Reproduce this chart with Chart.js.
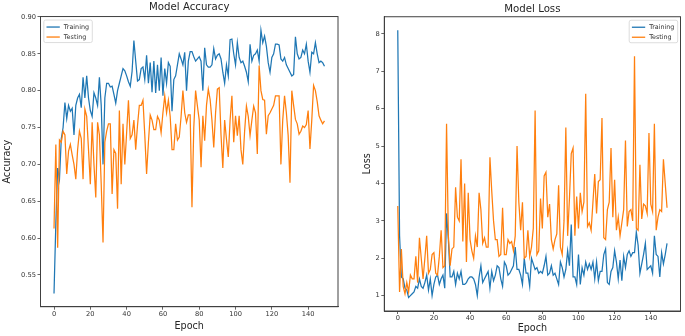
<!DOCTYPE html>
<html><head><meta charset="utf-8">
<script src="https://cdn.jsdelivr.net/npm/chart.js@4.4.0/dist/chart.umd.min.js"></script>
<style>
html,body{margin:0;padding:0;background:#fff;}
#wrap{position:relative;width:685px;height:336px;background:#fff;}
.box{position:absolute;top:0;height:336px;}
canvas{display:block;}
</style></head><body>
<div id="wrap">
<div class="box" style="left:0;width:342px"><canvas id="c1" width="342" height="336"></canvas></div>
<div class="box" style="left:342px;width:343px"><canvas id="c2" width="343" height="336"></canvas></div>
</div>
<script>
const epochs = Array.from({length:150}, (_, i) => i);
const seriesNames = ['Training', 'Testing'];

const accTrain = [
0.525,0.62,0.695,0.68,0.735,0.75,0.784,0.762,0.78,0.772,
0.776,0.74,0.78,0.79,0.795,0.777,0.818,0.79,0.82,0.79,
0.773,0.765,0.797,0.79,0.78,0.818,0.78,0.70,0.79,0.81,
0.81,0.805,0.806,0.795,0.783,0.80,0.81,0.82,0.83,0.827,
0.82,0.812,0.806,0.826,0.868,0.84,0.813,0.815,0.83,0.832,
0.815,0.848,0.81,0.838,0.798,0.84,0.797,0.835,0.80,0.845,
0.793,0.83,0.81,0.838,0.833,0.772,0.815,0.82,0.835,0.85,
0.843,0.835,0.852,0.80,0.84,0.853,0.853,0.846,0.84,0.843,
0.846,0.84,0.80,0.858,0.835,0.832,0.832,0.835,0.857,0.843,
0.848,0.85,0.843,0.825,0.81,0.835,0.82,0.869,0.87,0.85,
0.835,0.865,0.845,0.838,0.84,0.833,0.825,0.812,0.863,0.84,
0.848,0.85,0.855,0.84,0.882,0.865,0.874,0.86,0.838,0.825,
0.845,0.85,0.863,0.863,0.862,0.843,0.84,0.845,0.835,0.83,
0.825,0.82,0.822,0.873,0.85,0.843,0.845,0.855,0.85,0.863,
0.84,0.825,0.852,0.85,0.865,0.85,0.838,0.84,0.838,0.833];

const accTest = [
0.613,0.727,0.587,0.733,0.73,0.745,0.74,0.687,0.718,0.727,
0.713,0.70,0.68,0.72,0.745,0.735,0.68,0.775,0.765,0.72,
0.673,0.757,0.70,0.655,0.757,0.74,0.673,0.594,0.73,0.745,
0.755,0.755,0.66,0.72,0.715,0.64,0.773,0.673,0.755,0.70,
0.743,0.787,0.735,0.74,0.76,0.72,0.753,0.78,0.78,0.787,
0.74,0.687,0.73,0.767,0.76,0.747,0.747,0.765,0.76,0.743,
0.77,0.793,0.77,0.787,0.765,0.72,0.72,0.755,0.733,0.737,
0.765,0.80,0.77,0.757,0.767,0.767,0.642,0.75,0.80,0.779,
0.76,0.696,0.766,0.732,0.78,0.802,0.788,0.76,0.723,0.77,
0.802,0.804,0.74,0.695,0.76,0.734,0.71,0.76,0.793,0.73,
0.766,0.739,0.766,0.72,0.70,0.745,0.779,0.765,0.739,0.76,
0.779,0.77,0.714,0.834,0.80,0.788,0.787,0.741,0.766,0.77,
0.775,0.78,0.793,0.793,0.793,0.70,0.76,0.793,0.77,0.739,
0.675,0.80,0.78,0.761,0.755,0.741,0.745,0.752,0.75,0.754,
0.773,0.721,0.76,0.807,0.80,0.785,0.766,0.76,0.755,0.759];

const lossTrain = [
8.1,2.6,1.5,1.45,1.2,1.15,0.95,1.0,1.05,1.1,
1.25,1.2,1.45,1.25,1.2,1.35,1.55,1.15,1.45,1.0,
1.3,1.5,1.55,1.3,1.45,1.55,1.2,3.2,2.5,1.5,
1.5,1.65,1.3,1.6,1.45,1.65,1.3,1.3,1.35,1.45,
1.5,1.5,1.45,1.3,1.0,1.5,1.8,1.35,1.45,1.55,
1.65,1.2,1.65,1.4,1.55,1.8,1.75,1.45,1.25,1.9,
1.8,1.55,1.6,1.7,1.8,2.3,1.7,1.7,1.55,1.3,
2.0,1.6,1.6,1.25,2.0,1.85,1.7,1.75,1.6,1.65,
1.6,1.8,2.05,1.55,1.6,1.8,1.55,1.6,1.45,1.3,
1.9,1.75,1.5,1.7,2.2,1.8,2.9,1.5,1.5,1.3,
2.1,1.3,1.75,1.55,1.9,1.7,1.85,1.7,1.9,1.45,
1.9,1.4,1.65,1.65,2.1,2.25,1.35,1.3,1.65,1.75,
2.2,1.9,1.45,1.95,1.4,2.05,1.75,2.1,2.2,2.05,
2.15,2.15,2.7,2.35,1.6,1.85,2.1,2.4,1.7,1.75,
1.8,1.6,2.6,2.1,2.05,1.5,2.15,1.85,2.1,2.4];

const lossTest = [
3.4,1.1,2.25,1.25,1.05,1.35,1.1,1.55,1.45,1.45,
2.05,1.35,2.55,2.0,1.45,2.0,2.6,1.6,1.7,2.1,
2.15,1.6,1.55,2.05,2.75,1.75,1.8,5.6,2.6,1.8,
2.25,2.3,3.9,3.1,3.0,4.65,2.45,4.0,1.9,3.75,
2.5,2.2,2.0,2.6,2.3,3.75,3.3,2.4,2.55,2.3,
2.3,4.7,3.8,3.0,2.5,2.5,2.05,2.1,3.35,2.1,
2.1,2.5,2.4,2.45,2.2,2.6,5.0,3.5,2.75,3.5,
2.0,2.05,2.75,2.05,2.3,2.8,5.95,2.1,2.2,3.6,
2.8,4.2,4.3,3.1,3.45,2.5,2.25,2.5,2.65,3.95,
2.3,2.1,3.0,5.5,2.6,3.6,4.8,4.95,2.6,3.65,
2.8,3.75,3.25,3.5,6.4,2.85,2.95,2.75,3.5,4.25,
3.2,4.05,4.1,5.75,2.55,2.5,3.3,3.5,4.95,3.1,
4.1,2.75,3.1,2.6,2.95,3.3,5.15,2.85,3.25,3.3,
3.0,7.4,2.8,2.75,4.5,3.05,3.45,3.4,3.2,5.35,
3.45,3.25,5.6,2.75,3.1,3.3,3.25,4.65,4.0,3.35];

const xTicks = [0, 20, 40, 60, 80, 100, 120, 140];
const accTicks = [0.55, 0.60, 0.65, 0.70, 0.75, 0.80, 0.85, 0.90];
const lossTicks = [1, 2, 3, 4, 5, 6, 7, 8];

const BLUE = '#1f77b4', ORANGE = '#ff7f0e', AX = '#404040', TXT = '#262626';
const FONT = '"DejaVu Sans", sans-serif';

const frame = {
  id: 'frame',
  afterDatasetsDraw(chart) {
    const {ctx, chartArea: a} = chart;
    ctx.save();
    ctx.strokeStyle = AX; ctx.lineWidth = 1;
    ctx.strokeRect(a.left, a.top, a.right - a.left, a.bottom - a.top);
    ctx.restore();
  }
};

const legendBox = {
  id: 'legendBox',
  afterDraw(chart, args, opts) {
    const {ctx, chartArea: a} = chart;
    const w = 48.5, h = 22.5;
    const x = opts.side === 'left' ? a.left + 3.3 : a.right - 2.8 - w;
    const y = a.top + 3.5;
    ctx.save();
    ctx.fillStyle = 'rgba(255,255,255,0.85)';
    ctx.strokeStyle = '#d4d4d4'; ctx.lineWidth = 0.8;
    ctx.beginPath(); ctx.roundRect(x, y, w, h, 1.8); ctx.fill(); ctx.stroke();
    chart.data.datasets.forEach((ds, i) => {
      const ly = y + 7 + i * 10;
      ctx.strokeStyle = ds.borderColor; ctx.lineWidth = 1.3;
      ctx.beginPath(); ctx.moveTo(x + 2.7, ly); ctx.lineTo(x + 16, ly); ctx.stroke();
      ctx.fillStyle = '#333'; ctx.font = '6.4px ' + FONT; ctx.textBaseline = 'middle'; ctx.textAlign = 'left';
      ctx.fillText(ds.label, x + 20, ly);
    });
    ctx.restore();
  }
};

function build(id, o) {
  const mk = (vals) => epochs.map((e, i) => ({x: e, y: vals[i]}));
  return new Chart(document.getElementById(id), {
    type: 'line',
    data: {datasets: [
      {label: seriesNames[0], data: mk(o.train), borderColor: BLUE, backgroundColor: BLUE, borderWidth: 1.25, pointRadius: 0, tension: 0, order: 1},
      {label: seriesNames[1], data: mk(o.test), borderColor: ORANGE, backgroundColor: ORANGE, borderWidth: 1.25, pointRadius: 0, tension: 0, order: 0}
    ]},
    options: {
      responsive: false, animation: false, events: [],
      layout: {padding: {left: 0, right: o.padR, top: 0, bottom: 0}},
      plugins: {
        legend: {display: false}, tooltip: {enabled: false},
        title: {display: true, text: o.title, fullSize: false, color: TXT,
          font: {family: FONT, size: 10.2, weight: 'normal'}, padding: {top: o.tpt, bottom: o.tpb}},
        legendBox: {side: o.legendSide}
      },
      scales: {
        x: {
          type: 'linear', min: -7.45, max: 156.45,
          afterBuildTicks: s => { s.ticks = xTicks.map(v => ({value: v})); },
          afterFit: s => { s.height = o.xH; },
          ticks: {font: {family: FONT, size: 6.7}, color: '#333', padding: 0.5, maxRotation: 0, autoSkip: false, callback: v => String(v)},
          grid: {drawOnChartArea: false, drawTicks: true, tickLength: 3, color: AX, lineWidth: 0.8},
          border: {display: true, color: AX, width: 1},
          title: {display: true, text: 'Epoch', color: TXT, font: {family: FONT, size: 9.6}, padding: {top: 0, bottom: o.xtpb}}
        },
        y: {
          type: 'linear', min: o.ymin, max: o.ymax,
          afterBuildTicks: s => { s.ticks = o.yTicks.map(v => ({value: v})); },
          afterFit: s => { s.width = o.yW; },
          ticks: {font: {family: FONT, size: 6.7}, color: '#333', padding: 1.5, autoSkip: false, callback: o.fmt},
          grid: {drawOnChartArea: false, drawTicks: true, tickLength: 3, color: AX, lineWidth: 0.8},
          border: {display: true, color: AX, width: 1},
          title: {display: true, text: o.ylabel, color: TXT, font: {family: FONT, size: 9.6}, padding: {top: o.ytp, bottom: 0}}
        }
      }
    },
    plugins: [frame, legendBox]
  });
}

build('c1', {
  train: accTrain, test: accTest, title: 'Model Accuracy', ylabel: 'Accuracy',
  ymin: 0.507, ymax: 0.9005, yTicks: accTicks, fmt: v => Number(v).toFixed(2),
  yW: 40.5, padR: 4, xH: 29.3, tpt: 1, tpb: 3.3, xtpb: 4.2, ytp: 1.9, legendSide: 'left'
});
build('c2', {
  train: lossTrain, test: lossTest, title: 'Model Loss', ylabel: 'Loss',
  ymin: 0.59, ymax: 8.46, yTicks: lossTicks, fmt: v => String(v),
  yW: 42.3, padR: 4.5, xH: 25, tpt: 3.3, tpb: 1.2, xtpb: 2.0, ytp: 19.7, legendSide: 'right'
});
</script>
</body></html>
